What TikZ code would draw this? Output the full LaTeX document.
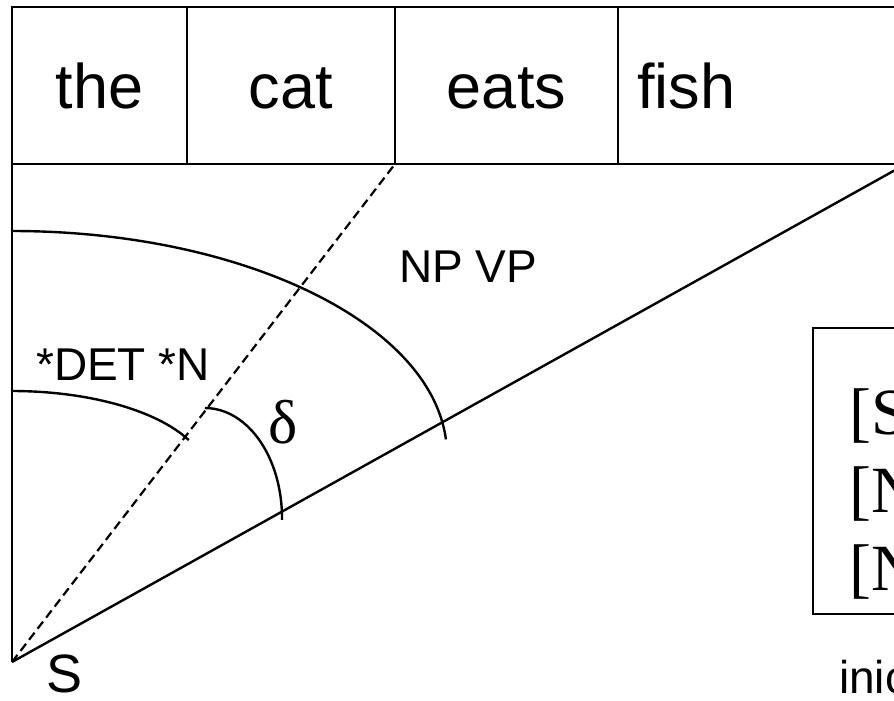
\documentclass[tikz,border=0pt]{standalone}
\usepackage{fontspec}
\setmainfont{Liberation Sans}
\newfontfamily\timesfont{Liberation Serif}
\usetikzlibrary{positioning}

\begin{document}
\begin{tikzpicture}[x=1pt,y=-1pt,line width=2.4pt]

	\tikzstyle{cell} = [rectangle,draw=black,line width=2.4pt,minimum height=157pt,inner sep=0pt,outer sep=0pt,text height=45pt,text depth=0pt,font=\fontsize{63}{70}\selectfont]
	\tikzstyle{etiqueta} = [inner sep=0pt,anchor=base west,font=\fontsize{46}{50}\selectfont]
	\tikzstyle{regla} = [inner sep=0pt,anchor=base west,font=\timesfont\fontsize{66}{78}\selectfont]
	\tikzstyle{arco} = [line width=2.4pt]
	\tikzstyle{guia} = [line width=2.2pt,dash pattern=on 9pt off 5pt]

	\useasboundingbox (0,0) rectangle (894,701);
	\clip (0,0) rectangle (894,701);

	\node[cell,minimum width=175pt,anchor=north west] (the) at (12,7) {the};
	\node[cell,minimum width=208pt,right=0pt of the] (cat) {cat};
	\node[cell,minimum width=223pt,right=0pt of cat] (eats) {eats};
	\node[cell,text width=400pt,inner xsep=19pt,align=left,right=0pt of eats] (fish) {fish};

	\coordinate (apex) at (12,662);
	\coordinate (rim) at (906,164);
	\coordinate (top1) at (12,231);
	\coordinate (top2) at (12,391);
	\coordinate (top3) at (205,408);

	\draw (the.south west) -- (apex);
	\draw[guia] (apex) -- (cat.south east);
	\draw (apex) -- (rim);

	\draw[arco] (top1) arc[start angle=90,end angle=4,x radius=435pt,y radius=224pt];
	\draw[arco] (top2) arc[start angle=90,end angle=25,x radius=195pt,y radius=85pt];
	\draw[arco] (top3) arc[start angle=90,end angle=-1,x radius=77pt,y radius=110pt];

	\node[etiqueta] (det) at (35,380) {*DET *N};
	\node[etiqueta] (npvp) at (398,282) {NP VP};
	\node[inner sep=0pt,font=\timesfont\fontsize{62}{70}\selectfont] (delta) at (283,422) {δ};
	\node[etiqueta,font=\fontsize{54}{60}\selectfont] (s) at (45,692) {S};

	\node[draw,line width=2.4pt,anchor=north west,minimum width=200pt,minimum height=286pt,inner sep=0pt] (pila) at (812,327) {};
	\node[regla] (r1) at (848,434) {{[}S};
	\node[regla] (r2) at (848,512) {{[}N};
	\node[regla] (r3) at (848,590) {{[}N};
	\node[etiqueta] (inic) at (838,693) {inic};

\end{tikzpicture}
\end{document}
